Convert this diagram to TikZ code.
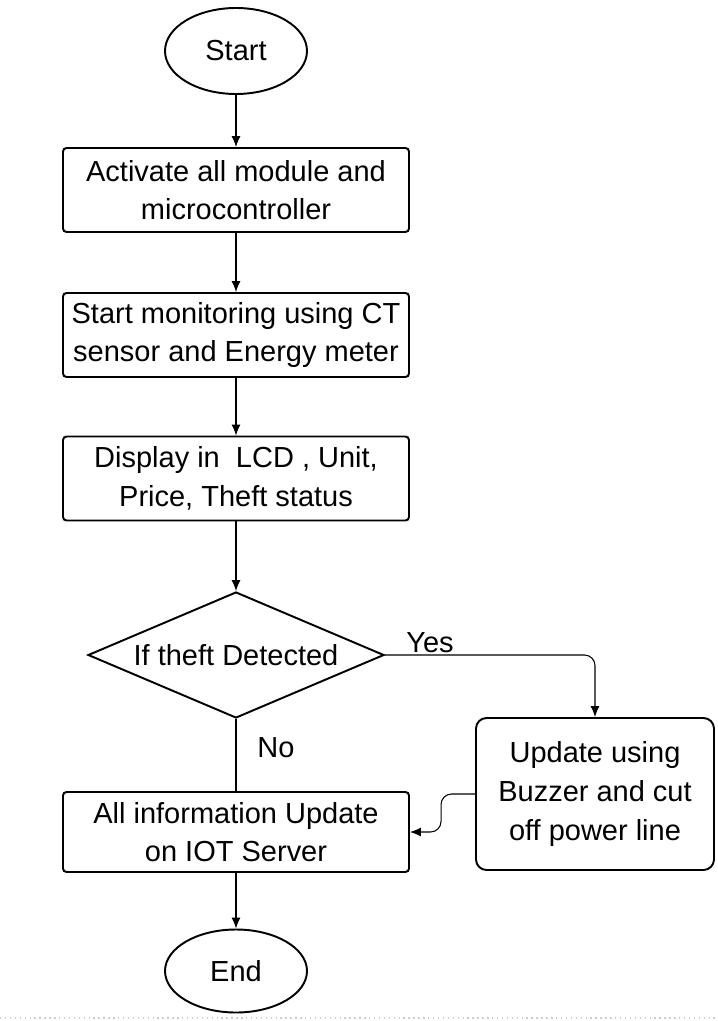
\documentclass[tikz,border=0pt]{standalone}
\usepackage{fontspec}
\setmainfont{Liberation Sans}
\usepackage{tikz}
\usetikzlibrary{arrows.meta,calc,positioning,shapes}
\usetikzlibrary{shapes.geometric}
\tikzset{%
	startstop/.style= {draw, ellipse, line width=1.1pt, minimum width=2.84cm, minimum height=1.72cm, inner sep=0pt, text centered},
	process/.style  = {draw, rectangle, rounded corners=2pt, line width=1.1pt, minimum width=6.92cm, minimum height=1.68cm, inner sep=2pt, align=center},
	action/.style   = {draw, rectangle, rounded corners=6pt, line width=1.1pt, minimum width=4.76cm, minimum height=3.04cm, align=center},
	decision/.style = {draw, diamond, aspect=2.35, line width=1.1pt, minimum width=5.92cm, minimum height=2.52cm, inner sep=0pt, text centered},
	arrow/.style    = {line width=0.6pt, -{Latex[length=2.2mm,width=1.8mm]}},
}

\begin{document}
\begin{tikzpicture}[font=\fontsize{16.5}{22}\selectfont]
	\useasboundingbox (0,0) rectangle (14.36,-20.42);
	\node[startstop] (start) at (4.72,-1.02) {Start};
	\node[process] (init) at (4.72,-3.8) {Activate all module and\\microcontroller};
	\node[process] (monitor) at (4.72,-6.7) {Start monitoring using CT\\sensor and Energy meter};
	\node[process] (display) at (4.72,-9.57) {Display in~~LCD , Unit,\\Price, Theft status};
	\node[decision] (theft) at (4.72,-13.1) {If theft Detected};
	\node[action] (buzzer) at (11.9,-15.88) {Update using\\Buzzer and cut\\off power line};
	\node[process, minimum height=1.6cm] (iot) at (4.72,-16.64) {All information Update\\on IOT Server};
	\node[startstop, minimum height=1.66cm] (stop) at (4.72,-19.42) {End};
	\node (yes) at (8.6,-12.86) {Yes};
	\node (no) at (5.52,-14.96) {No};
	% connectors
	\draw[arrow] (start) -- (init);
	\draw[arrow] (init) -- (monitor);
	\draw[arrow] (monitor) -- (display);
	\draw[arrow] (display) -- (theft);
	\draw[arrow, rounded corners=6pt] (theft.east) -| (buzzer.north);
	\draw[line width=0.6pt] (theft.south) -- (iot.north);
	\draw[arrow, rounded corners=6pt] (buzzer.west) -- ++(-0.68,0) |- (iot.east);
	\draw[arrow] (iot) -- (stop);
	% bottom border
	\draw[gray!40, dotted, line width=0.8pt] (0,-20.36) -- (14.36,-20.36);
\end{tikzpicture}
\end{document}
